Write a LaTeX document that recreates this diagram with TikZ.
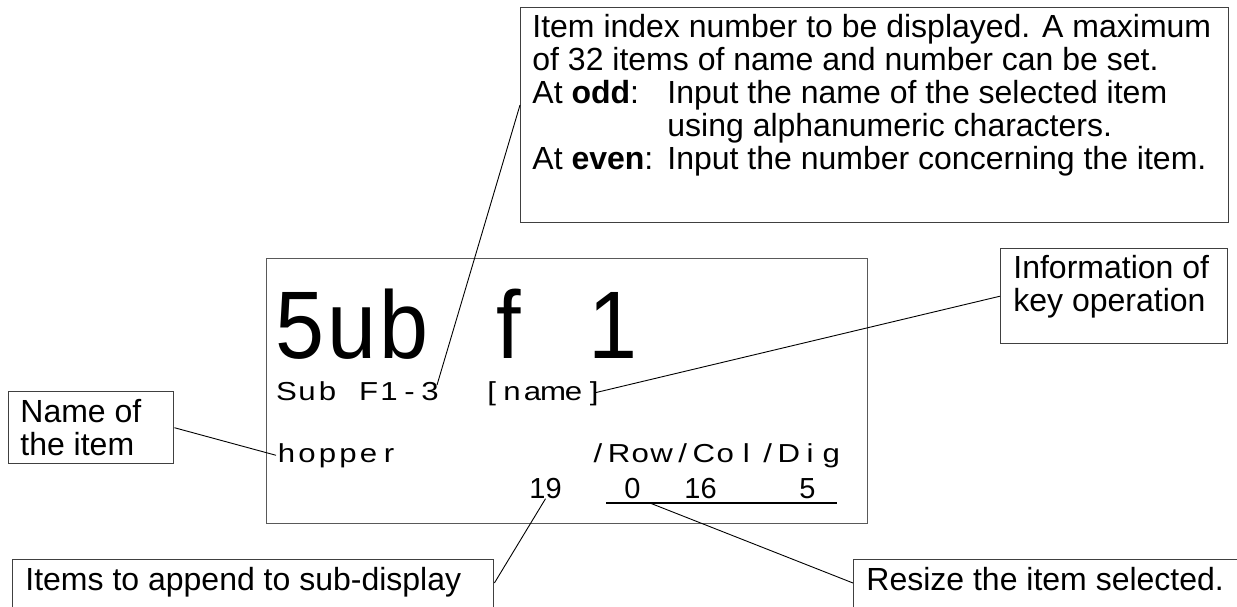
\documentclass[tikz,border=0pt]{standalone}
\usepackage{fontspec}
\setmainfont{Liberation Sans}
\usetikzlibrary{positioning}

% one character per fixed cell, like the panel display
\ExplSyntaxOn
\NewDocumentCommand\lcdcells{O{1}mm}{\str_map_inline:nn{#3}{\makebox[#2][c]{\scalebox{#1}[1]{##1}}}}
\ExplSyntaxOff

\begin{document}
\begin{tikzpicture}[x=0.5pt, y=-0.5pt,
    callout/.style={draw=black!75, line width=0.7pt, inner sep=0pt, anchor=north west},
    calltext/.style={anchor=north west, inner sep=0pt, align=left, font=\fontsize{16}{16.5}\selectfont},
    lead/.style={line width=0.45pt},
    lcd/.style={inner sep=0pt, anchor=base west},
    small/.style={lcd, font=\fontsize{13}{15}\selectfont},
    digit/.style={lcd, font=\fontsize{14.5}{16}\selectfont}]
  \def\CellS{10.25pt}
  \def\CellB{30.6pt}
  \useasboundingbox (0,0) rectangle (1237,606);
  \clip (0,0) rectangle (1237,606);

  % Draw display panel
  \node[callout, draw=black!65, minimum width=300.5pt, minimum height=132.5pt] (panel) at (266,258) {};
  \node[lcd] (title) at (274,358) {\fontsize{48}{52}\selectfont\scalebox{0.85}[1]{\lcdcells[1.08]{\CellB}{5ub f 1}}};
  \node[small] (subcode) at (276,400) {\lcdcells[1.2]{\CellS}{Sub F1-3}};
  \node[small] (keyinfo) at (481,400) {\lcdcells[1.2]{\CellS}{[name]}};
  \node[small] (hopper) at (276,462) {\lcdcells[1.2]{\CellS}{hopper}};
  \node[small] (header) at (587,462) {\lcdcells[1.2]{10.6pt}{/Row/Col/Dig}};

  % Values of the item
  \node[digit] (num19) at (529,498) {19};
  \node[digit] (numrow) at (624,498) {0};
  \node[digit] (numcol) at (684,498) {16};
  \node[digit] (numdig) at (799,498) {5};
  \draw[line width=1pt] (606,503) -- (837,503) coordinate[pos=0.19] (sizeend);

  % Callout boxes
  \node[callout, minimum width=354pt, minimum height=107.5pt] (idx) at (520,7) {};
  \node[calltext] (idxtext) at (532,14) {Item index number to be displayed. A maximum\\
    of 32 items of name and number can be set.\\
    \makebox[67.5pt][l]{At \textbf{odd}:}Input the name of the selected item\\
    \hspace*{67.5pt}using alphanumeric characters.\\
    \makebox[67.5pt][l]{At \textbf{even}:}Input the number concerning the item.};

  \node[callout, minimum width=113.5pt, minimum height=47.5pt] (info) at (1000,248) {};
  \node[calltext] (infotext) at (1013,255) {Information of\\key operation};

  \node[callout, minimum width=82.5pt, minimum height=36pt] (namebox) at (8,391) {};
  \node[calltext] (nametext) at (20,399) {Name of\\the item};

  \node[callout, minimum width=240.5pt, minimum height=35pt] (append) at (12,559) {};
  \node[calltext] (appendtext) at (25,567) {Items to append to sub-display};

  \node[callout, minimum width=200pt, minimum height=35pt] (resize) at (853,559) {};
  \node[calltext] (resizetext) at (866,567) {Resize the item selected.};

  % Leaders
  \coordinate (idxend) at (437,385);
  \coordinate (keyend) at (594,393);
  \draw[lead] ([yshift=-49pt]idx.north west) -- (idxend);
  \draw[lead] (info.west) -- (keyend);
  \draw[lead] (namebox.east) -- (hopper.west);
  \draw[lead] ([yshift=-12pt]append.north east) -- (num19.south);
  \draw[lead] ([yshift=-12pt]resize.north west) -- (sizeend);
\end{tikzpicture}
\end{document}
